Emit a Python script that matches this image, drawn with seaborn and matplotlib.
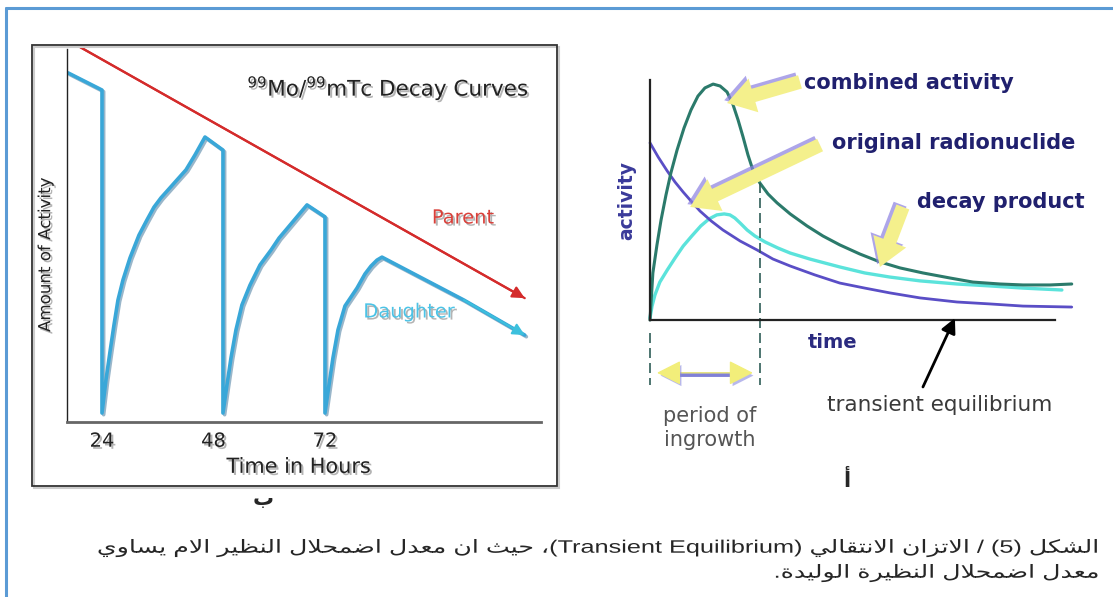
import re
import numpy as np
import pandas as pd
import matplotlib
matplotlib.use("Agg")
import matplotlib.pyplot as plt
import matplotlib.patheffects as pe
from matplotlib.patches import Rectangle
from matplotlib.lines import Line2D
from matplotlib.transforms import Affine2D
import seaborn as sns

W, H = 1113, 597

# === Left panel: 99Mo/99mTc generator (hours vs activity) ===
parent_hours = [19.3, 115.0]
parent_activity = [100.5, 33.2]

daughter_hours = [16.7, 24.0, 24.0, 24.86, 25.72, 26.58, 27.44, 28.52, 30.03, 31.96, 33.69,
                  35.19, 36.70, 38.21, 40.14, 42.08, 44.02, 46.17, 50.04,
                  50.04, 50.90, 51.77, 52.84, 54.13, 55.86, 58.01, 60.38, 62.10, 63.60,
                  65.76, 68.13, 72.0,
                  72.0, 72.86, 73.72, 74.80, 76.30, 78.89, 80.61, 81.90, 83.19, 84.27,
                  101.9, 115.0]
daughter_activity = [93.6, 89.0, 2.4, 11.3, 18.8, 26.0, 32.7, 38.1, 44.0, 50.1, 54.2,
                     57.6, 60.1, 62.2, 64.9, 67.6, 71.6, 76.4, 72.9,
                     2.4, 9.9, 17.2, 24.7, 31.4, 36.7, 42.1, 46.1, 49.3, 51.5,
                     54.7, 58.2, 55.0,
                     2.4, 9.9, 17.2, 24.7, 31.1, 35.9, 39.7, 41.8, 43.4, 44.2,
                     32.7, 23.3]
hour_ticks = [24, 48, 72]
hour_labels = ["24", "48", "72"]

# === Right panel: transient equilibrium (arbitrary time / activity) ===
combined_t = [0, 0.07, 0.17, 0.27, 0.39, 0.51, 0.66, 0.83, 1.0, 1.17, 1.34, 1.54, 1.71,
              1.88, 2.02, 2.15, 2.27, 2.39, 2.51, 2.68, 2.88, 3.10, 3.42, 3.83, 4.22,
              4.63, 5.12, 5.61, 6.10, 6.66, 7.32, 7.88, 8.54, 9.10, 9.76, 10.29]
combined_act = [0, 19.6, 31.3, 41.7, 52.1, 61.3, 70.8, 80.0, 87.5, 93.3, 96.7, 98.3, 97.5,
                95.0, 90.0, 83.3, 76.3, 68.8, 62.5, 57.1, 52.5, 48.8, 44.2, 39.2, 35.0,
                31.3, 27.5, 24.2, 21.7, 19.6, 17.5, 15.8, 15.0, 14.6, 14.6, 15.0]

product_t = [0, 0.05, 0.12, 0.24, 0.42, 0.61, 0.81, 1.02, 1.24, 1.44, 1.63, 1.81, 1.95,
             2.07, 2.20, 2.37, 2.56, 2.81, 3.12, 3.42, 3.90, 4.63, 5.24, 5.85, 6.59,
             7.49, 8.29, 9.10, 10.05]
product_act = [0.8, 5.8, 10.4, 15.8, 20.8, 25.8, 30.8, 35.0, 39.2, 42.1, 43.8, 44.2, 43.8,
               42.5, 40.4, 37.5, 35.0, 32.5, 30.0, 27.9, 25.4, 22.1, 19.6, 17.9, 16.3,
               15.0, 14.2, 13.3, 12.5]

original_t = [0, 0.20, 0.42, 0.61, 0.81, 1.02, 1.22, 1.49, 1.78, 2.20, 2.61, 3.0, 3.42,
              4.02, 4.63, 5.24, 5.85, 6.59, 7.49, 8.29, 9.10, 10.29]
original_act = [73.8, 67.9, 62.1, 57.5, 53.3, 49.2, 45.4, 41.3, 37.5, 32.9, 29.2, 25.4, 22.5,
                18.8, 15.4, 13.3, 11.3, 9.2, 7.5, 6.7, 5.8, 5.4]

time_ticks = [1.15, 2.12, 3.10, 4.10, 5.12, 6.15, 7.15, 8.17, 9.15]
activity_ticks = [20.8, 37.5, 52.9, 67.9, 84.2, 97.9]
ingrowth_end = 2.68

caption_1 = "الشكل (5) / الاتزان الانتقالي (Transient Equilibrium)، حيث ان معدل اضمحلال النظير الام يساوي"
caption_2 = "معدل اضمحلال النظيرة الوليدة."

# --- tiny Arabic shaper + bidi (matplotlib has no complex text layout) ---
DUAL = {'ب': 0xFE8F, 'ت': 0xFE95, 'ث': 0xFE99, 'ح': 0xFEA1, 'س': 0xFEB1, 'ش': 0xFEB5,
        'ض': 0xFEBD, 'ظ': 0xFEC5, 'ع': 0xFEC9, 'ق': 0xFED5, 'ك': 0xFED9, 'ل': 0xFEDD,
        'م': 0xFEE1, 'ن': 0xFEE5, 'ه': 0xFEE9, 'ي': 0xFEF1}
RIGHT = {'ا': 0xFE8D, 'أ': 0xFE83, 'د': 0xFEA9, 'ر': 0xFEAD, 'ز': 0xFEAF, 'و': 0xFEED,
         'ة': 0xFE93}


def shape(text):
    ch = list(text)
    n = len(ch)

    def joins_next(i):
        return ch[i] in DUAL and i + 1 < n and (ch[i + 1] in DUAL or ch[i + 1] in RIGHT)

    out, i = [], 0
    while i < n:
        c = ch[i]
        prev = i > 0 and joins_next(i - 1)
        if c == 'ل' and i + 1 < n and ch[i + 1] in ('ا', 'أ'):
            base = 0xFEFB if ch[i + 1] == 'ا' else 0xFEF7
            out.append(chr(base + (1 if prev else 0)))
            i += 2
            continue
        if c in DUAL:
            nxt = joins_next(i)
            k = (3 if nxt else 1) if prev else (2 if nxt else 0)
            out.append(chr(DUAL[c] + k))
        elif c in RIGHT:
            out.append(chr(RIGHT[c] + (1 if prev else 0)))
        else:
            out.append(c)
        i += 1
    return "".join(out)


def rtl(text):
    s = shape(text)
    runs = re.split(r"([A-Za-z0-9]+(?: [A-Za-z0-9]+)*)", s)
    mirror = str.maketrans("()", ")(")
    vis = []
    for r in reversed(runs):
        if re.fullmatch(r"[A-Za-z0-9 ]+", r or "-"):
            vis.append(r)
        else:
            vis.append(r[::-1].translate(mirror))
    return "".join(vis)


class HStretch(pe.AbstractPathEffect):
    """Widen glyphs horizontally about x0 (display px) - the scan is stretched sideways."""

    def __init__(self, sx, x0):
        super().__init__()
        self._sx = sx
        self._x0 = x0

    def draw_path(self, renderer, gc, tpath, affine, rgbFace=None):
        t = affine + Affine2D().translate(-self._x0, 0).scale(self._sx, 1).translate(self._x0, 0)
        renderer.draw_path(gc, tpath, t, rgbFace)


def fx(px):
    return px / W


def fy(py):
    return 1 - py / H


def box(l, t, r, b):
    return [l / W, 1 - b / H, (r - l) / W, (b - t) / H]


sns.set_style("white")
plt.rcParams['font.family'] = ['DejaVu Sans']
plt.rcParams['mathtext.fontset'] = 'dejavusans'
plt.rcParams['lines.solid_joinstyle'] = 'round'
plt.rcParams['lines.solid_capstyle'] = 'round'

shadow_txt = [pe.SimplePatchShadow(offset=(1.5, -1.5), shadow_rgbFace='#777777', alpha=0.55), pe.Normal()]

fig = plt.figure(figsize=(W / 100, H / 100), dpi=100)

# page border (blue) and left panel frame
fig.add_artist(Line2D([fx(6), 1], [fy(8), fy(8)], color='#5B9BD5', lw=2.2))
fig.add_artist(Line2D([fx(6), fx(6)], [fy(8), 0], color='#5B9BD5', lw=2.2))
fig.add_artist(Rectangle((fx(34), fy(488)), fx(557) - fx(32), fy(45) - fy(486),
                         transform=fig.transFigure, fill=False, ec='#cccccc', lw=1.5))
fig.add_artist(Rectangle((fx(32), fy(486)), fx(557) - fx(32), fy(45) - fy(486),
                         transform=fig.transFigure, fill=False, ec='#333333', lw=1.3))

# === Left panel ===
axL = fig.add_axes(box(67, 45, 541, 422))
axL.set_xlim(16.47, 118.5)
axL.set_ylim(0, 101.07)

df_parent = pd.DataFrame({"hours": parent_hours, "activity": parent_activity})
df_daughter = pd.DataFrame({"hours": daughter_hours, "activity": daughter_activity})

sns.lineplot(data=df_parent, x="hours", y="activity", ax=axL, sort=False, estimator=None,
             color='#D42B2B', lw=1.6)
axL.annotate('', xy=(parent_hours[-1], parent_activity[-1]),
             xytext=(parent_hours[-2], parent_activity[-2]),
             arrowprops=dict(arrowstyle='-|>', color='#D42B2B', lw=1.6, mutation_scale=18,
                             shrinkA=0, shrinkB=0))

sns.lineplot(data=df_daughter, x="hours", y="activity", ax=axL, sort=False, estimator=None,
             color='#39A7D8', lw=2.6,
             path_effects=[pe.SimpleLineShadow(offset=(1.2, -1.2), shadow_color='#1E5F8A', alpha=0.45),
                           pe.Normal()])
axL.annotate('', xy=(daughter_hours[-1], daughter_activity[-1]),
             xytext=(daughter_hours[-2], daughter_activity[-2]),
             arrowprops=dict(arrowstyle='-|>', color='#3CC0DD', lw=1.4, mutation_scale=18,
                             shrinkA=0, shrinkB=0))

for side in ['top', 'right']:
    axL.spines[side].set_visible(False)
axL.spines['left'].set_color('#222222')
axL.spines['left'].set_linewidth(1.0)
axL.spines['left'].set_bounds(0, 100)
axL.spines['bottom'].set_color('#666666')
axL.spines['bottom'].set_linewidth(2.0)
axL.set_yticks([])
axL.set_xticks(hour_ticks, labels=hour_labels)
axL.tick_params(axis='x', length=0, pad=7, labelsize=14, colors='#222222')
for lbl in axL.get_xticklabels():
    lbl.set_path_effects(shadow_txt)

axL.set_xlabel("Time in Hours", fontsize=15, color='#222222', path_effects=shadow_txt)
axL.xaxis.set_label_coords(0.489, -0.119)
axL.xaxis.label.set_va('center')
axL.set_ylabel("Amount of Activity", fontsize=12, color='#222222', path_effects=shadow_txt)
axL.yaxis.set_label_coords(-0.046, 0.443)
axL.yaxis.label.set_va('center')

fig.text(fx(388), fy(88), r"$^{99}$Mo/$^{99}$mTc Decay Curves", fontsize=15.5, color='#222222',
         ha='center', va='center', path_effects=shadow_txt)
fig.text(fx(463), fy(218), "Parent", fontsize=14, color='#D9403A', ha='center', va='center',
         path_effects=shadow_txt)
fig.text(fx(409), fy(312), "Daughter", fontsize=14, color='#4CC3E6', ha='center', va='center',
         path_effects=shadow_txt)
fig.text(fx(263), fy(505), shape("ب"), fontsize=15, weight='bold', ha='center', va='baseline',
         zorder=10)

# === Right panel ===
axR = fig.add_axes(box(650, 80, 1075, 320))
axR.set_xlim(0, 10.37)
axR.set_ylim(0, 100)

df_comb = pd.DataFrame({"t": combined_t, "act": combined_act})
df_prod = pd.DataFrame({"t": product_t, "act": product_act})
df_orig = pd.DataFrame({"t": original_t, "act": original_act})

sns.lineplot(data=df_prod, x="t", y="act", ax=axR, sort=False, estimator=None,
             color='#5BE3DB', lw=2.4, clip_on=False)
sns.lineplot(data=df_orig, x="t", y="act", ax=axR, sort=False, estimator=None,
             color='#5A4EC6', lw=2.0, clip_on=False)
sns.lineplot(data=df_comb, x="t", y="act", ax=axR, sort=False, estimator=None,
             color='#2B7A6B', lw=2.2, clip_on=False)

for side in ['top', 'right']:
    axR.spines[side].set_visible(False)
for side in ['left', 'bottom']:
    axR.spines[side].set_color('#222222')
    axR.spines[side].set_linewidth(1.6)
axR.spines['bottom'].set_bounds(0, 9.88)
axR.set_xticks(time_ticks, labels=[])
axR.set_yticks(activity_ticks, labels=[])
axR.tick_params(axis='y', direction='in', length=7, width=1.5, colors='#222222')
axR.tick_params(axis='x', direction='in', length=6, width=1.5, colors='#222222')
axR.set_xlabel("")
axR.set_ylabel("")

# period of ingrowth markers
top_dash = float(np.interp(ingrowth_end, combined_t, combined_act))
axR.plot([ingrowth_end, ingrowth_end], [top_dash, -27], ls=(0, (6, 3)), color='#2F5E58',
         lw=1.2, clip_on=False)
axR.plot([0, 0], [-5.4, -27], ls=(0, (6, 3)), color='#2F5E58', lw=1.2, clip_on=False)
axR.plot([0.45, 2.2], [-22.6, -22.6], color='#6A6AD0', lw=3.5, alpha=0.85, clip_on=False,
         solid_capstyle='butt')
dbl = axR.annotate('', xy=(2.51, -22), xytext=(0.17, -22), annotation_clip=False,
                   arrowprops=dict(arrowstyle='<|-|>,head_length=0.75,head_width=0.38',
                                   color='#F2EE7A', lw=1, mutation_scale=20,
                                   shrinkA=0, shrinkB=0))
dbl.arrow_patch.set_path_effects([pe.SimplePatchShadow(offset=(1.5, -2), shadow_rgbFace='#8A8AE0',
                                                       alpha=0.6), pe.Normal()])

# yellow pointer arrows
yellow_arrows = [((3.66, 99.2), (1.88, 90.4)),
                 ((4.15, 72.9), (0.98, 47.1)),
                 ((6.17, 47.1), (5.61, 22.1))]
for tail, tip in yellow_arrows:
    a = axR.annotate('', xy=tip, xytext=tail, annotation_clip=False,
                     arrowprops=dict(arrowstyle='simple,head_length=0.9,head_width=1.15,tail_width=0.45',
                                     fc='#F4F08C', ec='none', mutation_scale=22,
                                     shrinkA=0, shrinkB=0))
    a.arrow_patch.set_path_effects([pe.SimplePatchShadow(offset=(-2, 2), shadow_rgbFace='#8A7FE0',
                                                         alpha=0.7), pe.Normal()])

# transient equilibrium pointer
axR.annotate('', xy=(7.44, 0.8), xytext=(6.66, -27.9), annotation_clip=False,
             arrowprops=dict(arrowstyle='-|>', color='black', lw=2, mutation_scale=22,
                             shrinkA=0, shrinkB=0))

navy = '#20206E'
fig.text(fx(909), fy(83), "combined activity", fontsize=15, weight='bold', color=navy,
         ha='center', va='center')
fig.text(fx(954), fy(143), "original radionuclide", fontsize=15, weight='bold', color=navy,
         ha='center', va='center')
fig.text(fx(1001), fy(202), "decay product", fontsize=15, weight='bold', color=navy,
         ha='center', va='center')
fig.text(fx(833), fy(343), "time", fontsize=14, weight='bold', color='#2B2B80',
         ha='center', va='center')
fig.text(fx(627), fy(200), "activity", fontsize=13.5, weight='bold', color='#3A3A9A',
         ha='center', va='center', rotation=90)
fig.text(fx(710), fy(428), "period of\ningrowth", fontsize=15, color='#555555',
         ha='center', va='center', linespacing=1.3)
fig.text(fx(940), fy(405), "transient equilibrium", fontsize=15.5, color='#3A3A3A',
         ha='center', va='center')
fig.text(fx(847), fy(480), shape("أ"), fontsize=15, weight='bold', ha='center', va='center')

# === Arabic caption (scan is stretched sideways, so widen the glyphs) ===
cap_fx = [HStretch(1.4, 1100)]
fig.text(fx(1100), fy(548), rtl(caption_1), fontsize=13, ha='right', va='center',
         family=['Liberation Sans', 'DejaVu Sans'], path_effects=cap_fx)
fig.text(fx(1100), fy(573), rtl(caption_2), fontsize=13, ha='right', va='center',
         family=['Liberation Sans', 'DejaVu Sans'], path_effects=cap_fx)

fig.savefig("out.png", dpi=100)
